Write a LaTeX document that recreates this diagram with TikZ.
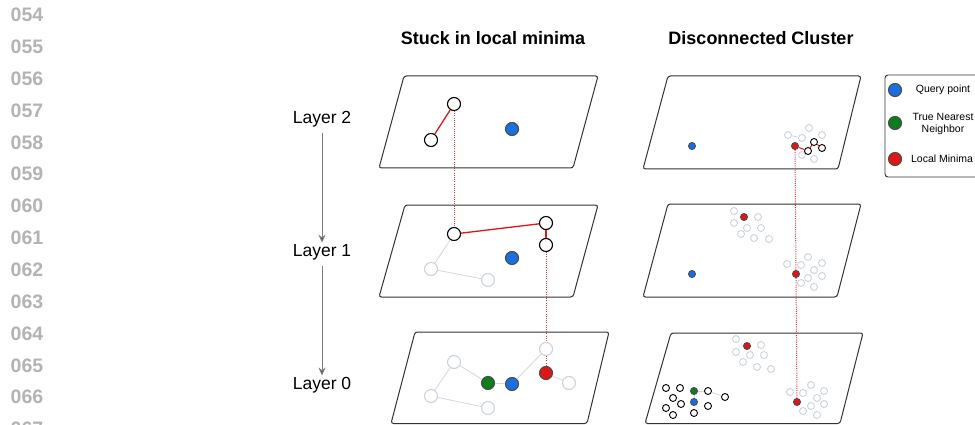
\documentclass[tikz,border=0pt]{standalone}
\usepackage{fontspec}
\setmainfont{Liberation Sans}
\usetikzlibrary{arrows.meta}
\definecolor{qblue}{HTML}{1A6FDF}
\definecolor{tgreen}{HTML}{0B7D1A}
\definecolor{lred}{HTML}{E01515}
\definecolor{ghost}{HTML}{CDD3DC}
\definecolor{ghostline}{HTML}{D3D7DD}
\definecolor{numgray}{HTML}{B3B3B3}
\definecolor{arrowgray}{HTML}{7A7D82}
\begin{document}
\begin{tikzpicture}[x=1pt,y=-1pt,
  plane/.style={draw=black!80,line width=1pt,rounded corners=2.5pt},
  pt/.style={circle,inner sep=0pt,minimum size=13pt,line width=1.1pt},
  spt/.style={circle,inner sep=0pt,minimum size=7pt,line width=0.9pt},
  wht/.style={draw=black,fill=white},
  gst/.style={draw=ghost,fill=white},
  qry/.style={draw=black!70,fill=qblue},
  tnn/.style={draw=black!70,fill=tgreen},
  lmin/.style={draw=black!70,fill=lred},
  redge/.style={draw=lred,line width=1.3pt},
  gedge/.style={draw=ghostline,line width=0.8pt},
  hop/.style={draw=lred!85,line width=1pt,dash pattern=on 1pt off 1.2pt},
  linenum/.style={font=\bfseries\fontsize{19.5}{20}\selectfont,text=numgray},
  title/.style={font=\bfseries\fontsize{18}{19}\selectfont},
  layerlbl/.style={font=\fontsize{17.5}{18}\selectfont},
  legtxt/.style={font=\fontsize{10.5}{12}\selectfont,align=center},
  layerarrow/.style={draw=arrowgray,line width=0.9pt,-{Stealth[length=8pt,width=7pt,fill=black!70]}}
]
\useasboundingbox (0,0) rectangle (975,425);

% margin line numbers
\foreach \n [count=\i from 0] in {054,055,056,057,058,059,060,061,062,063,064,065,066,067}
  \node[linenum] (ln\n) at (27,15+31.85*\i) {\n};

% column titles
\node[title] (t1) at (493,38) {Stuck in local minima};
\node[title] (t2) at (761,38) {Disconnected Cluster};

% layer labels
\node[layerlbl] (lay2) at (322,119) {Layer 2};
\node[layerlbl] (lay1) at (322,252) {Layer 1};
\node[layerlbl] (lay0) at (322,385) {Layer 0};
\draw[layerarrow] (lay2.south) ++(0,3) coordinate (a2) (a2) -- ([yshift=-2pt]lay1.north);
\draw[layerarrow] (lay1.south) ++(0,3) coordinate (a1) (a1) -- ([yshift=-2pt]lay0.north);

% planes, left column
\draw[plane] (404,76) -- (598,76) -- (573,168) -- (379,168) -- cycle;
\draw[plane] (405,205) -- (598,205) -- (573,297) -- (379,297) -- cycle;
\draw[plane] (415,332) -- (609,332) -- (587,423.5) -- (391,423.5) -- cycle;
% planes, right column
\draw[plane] (668,76) -- (861,76) -- (838,169) -- (643,169) -- cycle;
\draw[plane] (668,204) -- (861,204) -- (837,297) -- (643,297) -- cycle;
\draw[plane] (671,333) -- (863,333) -- (840,423.5) -- (645,423.5) -- cycle;

% ---------- left column ----------
% layer 2
\node[pt,wht] (a2e) at (454,104) {};
\node[pt,wht] (a2s) at (431,140) {};
\node[pt,qry] (a2q) at (512,129) {};
\draw[redge] (a2s) -- (a2e);
% layer 1
\node[pt,gst] (a1g1) at (431,269) {};
\node[pt,gst] (a1g2) at (488,280) {};
\node[pt,wht] (a1s) at (454,234) {};
\node[pt,wht] (a1m) at (546,223) {};
\node[pt,wht] (a1e) at (546,245) {};
\node[pt,qry] (a1q) at (512,258) {};
\draw[gedge] (a1s) -- (a1g1);
\draw[gedge] (a1g1) -- (a1g2);
\draw[redge] (a1s) -- (a1m);
\draw[redge] (a1m) -- (a1e);
% layer 0
\node[pt,gst] (a0g1) at (454,362) {};
\node[pt,gst] (a0g2) at (431,396) {};
\node[pt,gst] (a0g3) at (488,408) {};
\node[pt,gst] (a0g4) at (546,349) {};
\node[pt,gst] (a0g5) at (569,383) {};
\node[pt,tnn] (a0t) at (488,383) {};
\node[pt,qry] (a0q) at (512,384) {};
\node[pt,lmin] (a0r) at (546,373) {};
\draw[gedge] (a0g1) -- (a0t);
\draw[gedge] (a0g1) -- (a0g2);
\draw[gedge] (a0g2) -- (a0g3);
\draw[gedge] (a0t) -- (a0q);
\draw[gedge] (a0q) -- (a0g4);
\draw[gedge] (a0r) -- (a0g5);
% descent between layers
\draw[hop] (a2e) -- (a1s);
\draw[hop] (a1e) -- (a0g4);
\draw[hop] (a0g4) -- (a0r);

% ---------- right column ----------
% layer 2
\node[spt,qry] (b2q) at (692,146) {};
\foreach \x/\y [count=\k] in {788/135,802/138,809/128,822/135,802/155,814/159}
  \node[spt,gst] (b2g\k) at (\x,\y) {};
\node[spt,wht] (b2w1) at (808,151) {};
\node[spt,wht] (b2w2) at (814,142) {};
\node[spt,wht] (b2w3) at (822,148) {};
\node[spt,lmin] (b2r) at (795,146) {};
\draw[gedge] (b2g1) -- (b2g2);
\draw[redge,line width=1pt] (b2r) -- (b2w1);
\draw[redge,line width=1pt] (b2w1) -- (b2w2);
\draw[redge,line width=1pt] (b2w2) -- (b2w3);
% layer 1
\node[spt,qry] (b1q) at (692,274) {};
\foreach \x/\y [count=\k] in {734/211,758/217,734/223,747/228,761/228,741/234,754/238,769/239}
  \node[spt,gst] (b1u\k) at (\x,\y) {};
\node[spt,lmin] (b1ur) at (744,217) {};
\foreach \x/\y [count=\k] in {787/264,801/265,808/257,822/263,814/270,822/276,808/278,801/283,814/287}
  \node[spt,gst] (b1l\k) at (\x,\y) {};
\node[spt,lmin] (b1r) at (796,274) {};
% layer 0
\foreach \x/\y [count=\k] in {736/339,761/345,736/352,750/355,764/355,743/362,757/367,771/369}
  \node[spt,gst] (b0u\k) at (\x,\y) {};
\node[spt,lmin] (b0ur) at (747,346) {};
\foreach \x/\y [count=\k] in {790/392,803/393,811/385,824/391,817/398,824/404,811/406,803/411,817/415}
  \node[spt,gst] (b0l\k) at (\x,\y) {};
\node[spt,lmin] (b0r) at (797,402) {};
\foreach \x/\y [count=\k] in {666/388,680/388,673/398,681/404,666/408,673/415,708/391,708/406,694/413,725/397}
  \node[spt,wht] (b0w\k) at (\x,\y) {};
\node[spt,tnn] (b0t) at (694,391) {};
\node[spt,qry] (b0q) at (694,402) {};
\draw[gedge] (b0t) -- (b0w7);
\draw[gedge] (b0w7) -- (b0w10);
\draw[gedge] (b0t) -- (b0q);
% descent between layers
\draw[hop] (b2r) -- (b1r);
\draw[hop] (b1r) -- (b0r);

% ---------- legend ----------
\draw[plane,rounded corners=3pt,line width=0.9pt] (885,75) -- (990,75) -- (990,177) -- (885,177) -- cycle;
\node[pt,qry] (kq) at (895,90) {};
\node[pt,tnn] (kt) at (895,123) {};
\node[pt,lmin] (kr) at (895,159) {};
\node[legtxt] (kqt) at (943,90) {Query point};
\node[legtxt] (ktt) at (943,124) {True Nearest\\Neighbor};
\node[legtxt] (krt) at (942,159) {Local Minima};
\end{tikzpicture}
\end{document}
